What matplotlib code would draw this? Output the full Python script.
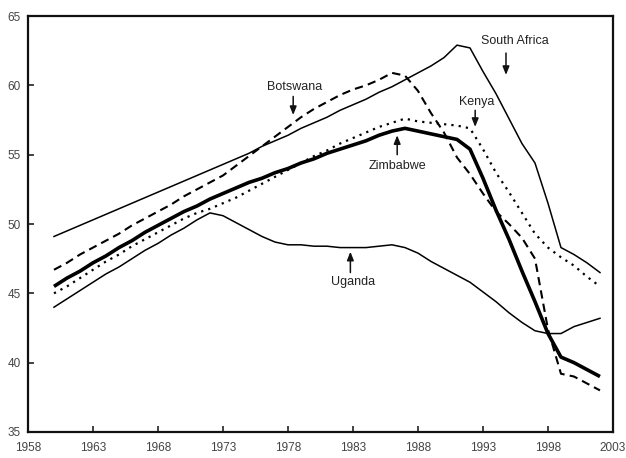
import matplotlib
matplotlib.use("Agg")
import matplotlib.pyplot as plt

years = list(range(1960, 2003))

south_africa = [49.1, 49.5, 49.9, 50.3, 50.7, 51.1, 51.5, 51.9, 52.3, 52.7,
                53.1, 53.5, 53.9, 54.3, 54.7, 55.1, 55.6, 56.0, 56.4, 56.9,
                57.3, 57.7, 58.2, 58.6, 59.0, 59.5, 59.9, 60.4, 60.9, 61.4,
                62.0, 62.9, 62.7, 61.0, 59.4, 57.6, 55.8, 54.4, 51.5, 48.3,
                47.8, 47.2, 46.5]
botswana = [46.7, 47.2, 47.8, 48.3, 48.8, 49.3, 49.9, 50.4, 50.9, 51.4,
            52.0, 52.5, 53.0, 53.5, 54.2, 54.9, 55.6, 56.3, 57.0, 57.7,
            58.3, 58.8, 59.3, 59.7, 60.0, 60.4, 60.9, 60.7, 59.6, 58.0,
            56.6, 54.8, 53.6, 52.2, 50.9, 50.0, 49.0, 47.5, 42.4, 39.2,
            39.0, 38.5, 38.0]
zimbabwe = [45.5, 46.1, 46.6, 47.2, 47.7, 48.3, 48.8, 49.4, 49.9, 50.4,
            50.9, 51.3, 51.8, 52.2, 52.6, 53.0, 53.3, 53.7, 54.0, 54.4,
            54.7, 55.1, 55.4, 55.7, 56.0, 56.4, 56.7, 56.9, 56.7, 56.5,
            56.3, 56.1, 55.4, 53.3, 51.0, 48.9, 46.6, 44.4, 42.1, 40.4,
            40.0, 39.5, 39.0]
kenya = [45.0, 45.5, 46.1, 46.7, 47.3, 47.8, 48.4, 48.9, 49.4, 49.9,
         50.4, 50.8, 51.1, 51.5, 51.9, 52.4, 52.9, 53.4, 53.9, 54.4,
         54.9, 55.3, 55.8, 56.2, 56.6, 57.0, 57.3, 57.6, 57.4, 57.3,
         57.2, 57.1, 56.9, 55.4, 53.7, 52.3, 50.8, 49.3, 48.3, 47.6,
         47.0, 46.2, 45.5]
uganda = [44.0, 44.6, 45.2, 45.8, 46.4, 46.9, 47.5, 48.1, 48.6, 49.2,
          49.7, 50.3, 50.8, 50.6, 50.1, 49.6, 49.1, 48.7, 48.5, 48.5,
          48.4, 48.4, 48.3, 48.3, 48.3, 48.4, 48.5, 48.3, 47.9, 47.3,
          46.8, 46.3, 45.8, 45.1, 44.4, 43.6, 42.9, 42.3, 42.1, 42.1,
          42.6, 42.9, 43.2]

x_ticks = [1958, 1963, 1968, 1973, 1978, 1983, 1988, 1993, 1998, 2003]
y_ticks = [35, 40, 45, 50, 55, 60, 65]

labels = ["South Africa", "Botswana", "Kenya", "Zimbabwe", "Uganda"]

fig = plt.figure(figsize=(6.26, 4.58), dpi=100)
ax = fig.add_axes([0.0447, 0.0568, 0.9345, 0.9082])

ax.plot(years, south_africa, color="black", lw=1.1)
ax.plot(years, uganda, color="black", lw=1.1)
ax.plot(years, botswana, color="black", lw=1.5, linestyle=(0, (4, 2.5)))
ax.plot(years, kenya, color="black", lw=1.6, linestyle=(0, (1, 2.3)))
ax.plot(years, zimbabwe, color="black", lw=2.6, solid_capstyle="butt")

ax.set_xlim(1958, 2003)
ax.set_ylim(35, 65)
ax.set_xticks(x_ticks)
ax.set_yticks(y_ticks)
ax.tick_params(direction="in", length=4, width=1.2, colors="#222")
ax.tick_params(axis="x", pad=7, labelsize=8.5, labelcolor="#444")
ax.tick_params(axis="y", pad=5, labelsize=8.5, labelcolor="#444")
for lab in ax.get_xticklabels() + ax.get_yticklabels():
    lab.set_fontfamily("Liberation Sans")
for s in ax.spines.values():
    s.set_linewidth(1.6)
    s.set_color("#111")

tfont = dict(fontsize=9, family="Liberation Sans", color="#222",
             ha="center", va="center")
arrow = dict(arrowstyle="-|>,head_length=0.5,head_width=0.2",
             color="#111", lw=1.1, shrinkA=0, shrinkB=0)

# South Africa
ax.text(1995.46, 63.2, labels[0], **tfont)
ax.annotate("", xy=(1994.77, 60.75), xytext=(1994.77, 62.33), arrowprops=arrow)
# Botswana
ax.text(1978.5, 59.9, labels[1], **tfont)
ax.annotate("", xy=(1978.4, 57.86), xytext=(1978.4, 59.2), arrowprops=arrow)
# Kenya
ax.text(1992.5, 58.8, labels[2], **tfont)
ax.annotate("", xy=(1992.4, 57.0), xytext=(1992.4, 58.2), arrowprops=arrow)
# Zimbabwe
ax.text(1986.4, 54.2, labels[3], **tfont)
ax.annotate("", xy=(1986.4, 56.4), xytext=(1986.4, 55.0), arrowprops=arrow)
# Uganda
ax.text(1983.0, 45.8, labels[4], **tfont)
ax.annotate("", xy=(1982.8, 48.0), xytext=(1982.8, 46.5), arrowprops=arrow)

fig.savefig("out.png", dpi=100)
